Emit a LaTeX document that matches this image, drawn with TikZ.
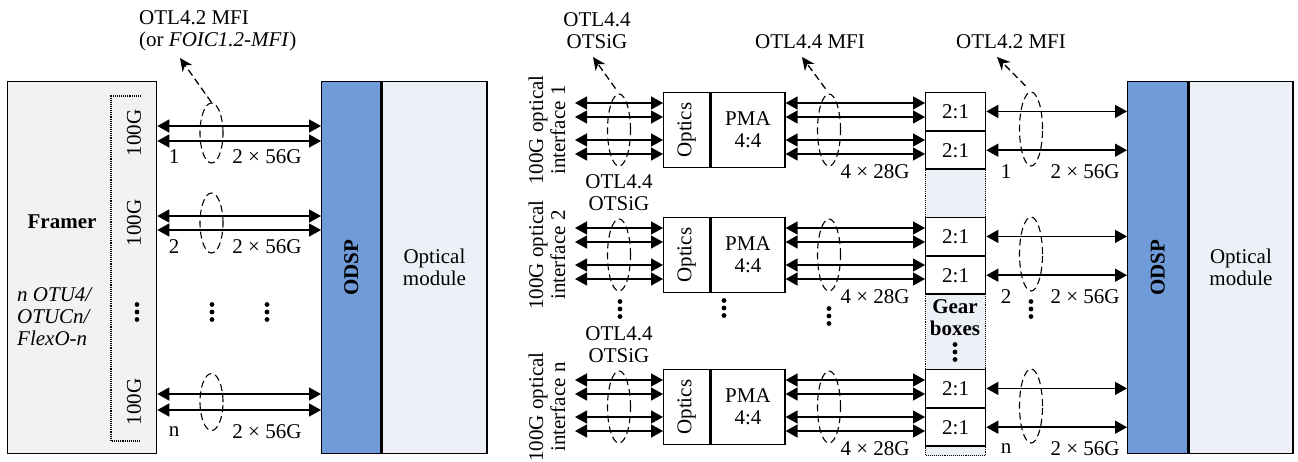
\documentclass[tikz,border=0pt]{standalone}
\usepackage{fontspec}
\setmainfont{Liberation Serif}
\usetikzlibrary{arrows.meta,positioning,shapes.geometric,calc}
\definecolor{framergray}{RGB}{242,242,242}
\definecolor{odspblue}{RGB}{111,156,216}
\definecolor{modulegray}{RGB}{237,241,247}
\newcommand{\vdotsat}[1]{\foreach \d in {-7.5,0,7.5} {\fill ($(#1)+(0,\d)$) circle (2.4pt);}}

\begin{document}
\begin{tikzpicture}[x=1pt,y=-1pt,font=\fontsize{21}{22}\selectfont,
  blk/.style={draw,line width=1.3pt,inner sep=0pt,anchor=north west,align=center},
  link/.style={{Triangle[length=12pt,width=13pt]}-{Triangle[length=12pt,width=13pt]},line width=1.5pt},
  bundle/.style={draw,ellipse,dash pattern=on 7pt off 4pt,line width=1.1pt,inner sep=0pt,minimum width=23pt},
  callout/.style={-{Stealth[length=13pt,width=12pt]},dash pattern=on 7pt off 4pt,line width=1.3pt}
]
\useasboundingbox (0,0) rectangle (1298,461);

% left: framer to optical module
\node[blk,fill=framergray,minimum width=149pt,minimum height=372pt] (framer) at (7,81) {};
\node (frname) at (62,222) {\textbf{Framer}};
\node[align=left,anchor=west,inner sep=0pt] (frtype) at (17,317) {\textit{n OTU4/}\\\textit{OTUCn/}\\\textit{FlexO-n}};
\draw[densely dotted,line width=1.1pt] (141,96) -| (111,441) -- (141,441);
\node[blk,fill=odspblue,minimum width=59pt,minimum height=372pt] (odspL) at (321,81) {\rotatebox{90}{\textbf{ODSP}}};
\node[blk,fill=modulegray,minimum width=105pt,minimum height=372pt] (moduleL) at (odspL.north east) {Optical\\module};

\foreach \k/\ya/\yb/\yc/\yl/\h in {1/126/141/133/157/60, 2/216/230/223/247/60, n/394/410/402/432/57} {
  \node[rotate=90] (lane\k) at (134,\yc) {100G};
  \draw[link] (framer.east |- 0,\ya) -- (odspL.west |- 0,\ya);
  \draw[link] (framer.east |- 0,\yb) -- (odspL.west |- 0,\yb);
  \node[bundle,minimum height=\h pt] (mfi\k) at (211.5,\yc) {};
  \node (num\k) at (174,\yl) {\k};
  \node (rate\k) at (267,\yl) {2 × 56G};
}
\coordinate (dotsA) at (137,312);
\coordinate (dotsB) at (212,312);
\coordinate (dotsC) at (267,312);
\vdotsat{dotsA} \vdotsat{dotsB} \vdotsat{dotsC}
\coordinate (tipL) at (180,58);
\draw[callout] (mfi1.north) -- (tipL);
\node[align=left,anchor=west,inner sep=0pt] (mfiname) at (139,31) {OTL4.2 MFI\\(or \textit{FOIC1.2-MFI})};

% right: optical interfaces, gear boxes, optical module
\node[blk,fill=odspblue,minimum width=60pt,minimum height=372pt] (odspR) at (1127,81) {\rotatebox{90}{\textbf{ODSP}}};
\node[blk,fill=modulegray,minimum width=104pt,minimum height=372pt] (moduleR) at (odspR.north east) {Optical\\module};
\node[draw,densely dotted,line width=1.1pt,fill=modulegray,anchor=north west,minimum width=60pt,minimum height=363pt] (gear) at (925,92) {};
\node[align=center] (gearname) at (955,318) {\textbf{Gear}\\\textbf{boxes}};
\coordinate (gdots) at (955,352);
\vdotsat{gdots}

\foreach \k/\t in {1/92, 2/217, n/369} {
  \node[blk,minimum width=46pt,minimum height=75pt] (optics\k) at (663,\t) {\rotatebox{90}{Optics}};
  \node[blk,minimum width=74pt,minimum height=75pt] (pma\k) at (optics\k.north east) {PMA\\4:4};
  \node[blk,fill=white,minimum width=60pt,minimum height=37.5pt] (gbA\k) at (925,\t) {2:1};
  \node[blk,fill=white,minimum width=60pt,minimum height=37.5pt] (gbB\k) at (gbA\k.south west) {2:1};
  \coordinate (host\k) at (575,\t);
  \foreach \o in {11,25,48,62} {
    \draw[link] ($(host\k)+(0,\o)$) -- ($(optics\k.north west)+(0,\o)$);
    \draw[link] ($(pma\k.north east)+(0,\o)$) -- ($(gbA\k.north west)+(0,\o)$);
  }
  \draw[link] (gbA\k.east) -- (odspR.west |- gbA\k.east);
  \draw[link] (gbB\k.east) -- (odspR.west |- gbB\k.east);
  \node[bundle,minimum height=72pt] (otsig\k) at (619,\t+38) {};
  \node[bundle,minimum height=72pt] (mfiB\k) at (829,\t+38) {};
  \node[bundle,minimum height=74pt] (mfiC\k) at (1031,\t+37) {};
  \node[rotate=90,align=center] (port\k) at (547,\t+38) {100G optical\\interface \k};
  \node (lanes\k) at (875,\t+80) {4 × 28G};
  \node (idx\k) at (1006,\t+80) {\k};
  \node (rateR\k) at (1085,\t+80) {2 × 56G};
}
\node[align=center] (otsigname1) at (597,31) {OTL4.4\\OTSiG};
\node[align=center] (otsigname2) at (619,193) {OTL4.4\\OTSiG};
\node[align=center] (otsignamen) at (619,345) {OTL4.4\\OTSiG};
\node (mfiname4) at (810,42) {OTL4.4 MFI};
\node (mfiname2) at (1011,42) {OTL4.2 MFI};
\coordinate (tipO) at (593,57);
\coordinate (tipM) at (802,57);
\coordinate (tipR) at (997,57);
\draw[callout,shorten <=6pt] (otsig1.north) -- (tipO);
\draw[callout,shorten <=6pt] (mfiB1.north) -- (tipM);
\draw[callout,shorten <=8pt] (mfiC1.north) -- (tipR);
\coordinate (dotsD) at (620,309);
\coordinate (dotsE) at (724,308);
\coordinate (dotsF) at (829,316);
\coordinate (dotsG) at (1031,309);
\vdotsat{dotsD} \vdotsat{dotsE} \vdotsat{dotsF} \vdotsat{dotsG}
\end{tikzpicture}
\end{document}
